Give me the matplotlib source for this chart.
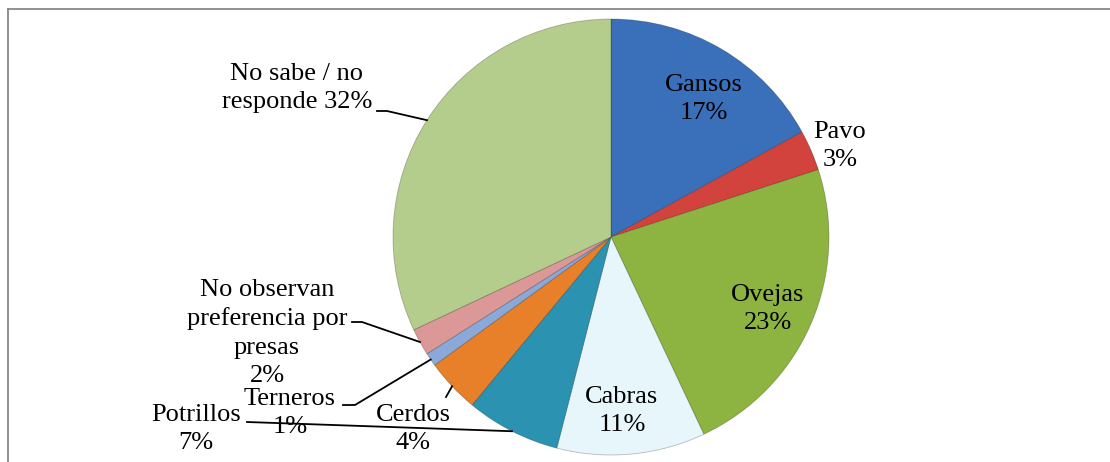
import numpy as np
import matplotlib.pyplot as plt
from matplotlib.lines import Line2D

plt.rcParams['font.family'] = ['Liberation Serif', 'DejaVu Serif']

# datos
categorias = ['Gansos', 'Pavo', 'Ovejas', 'Cabras', 'Potrillos', 'Cerdos',
              'Terneros', 'No observan preferencia por presas',
              'No sabe / no responde']
porcentajes = [17, 3, 23, 11, 7, 4, 1, 2, 32]
etiquetas = ['Gansos\n17%', 'Pavo\n3%', 'Ovejas\n23%', 'Cabras\n11%',
             'Potrillos\n7%', 'Cerdos\n4%', 'Terneros\n1%',
             'No observan\npreferencia por\npresas\n2%',
             'No sabe / no\nresponde 32%']
colores = ['#3a6fba', '#d2433d', '#8db440', '#e6f6fb', '#2b93b1',
           '#e8802a', '#8aa8d8', '#dc9896', '#b5cd8c']

W, H = 1110, 462
fig = plt.figure(figsize=(W / 100, H / 100), dpi=100)
ax = fig.add_axes([0, 0, 1, 1])

cx, cy, r = 611, H - 237, 218
wedges, _ = ax.pie(porcentajes, colors=colores, startangle=90,
                   counterclock=False, center=(cx, cy), radius=r,
                   wedgeprops=dict(edgecolor=(0, 0, 0, 0.25), linewidth=0.6),
                   frame=True)
ax.set_xlim(0, W)
ax.set_ylim(0, H)
ax.set_aspect('equal')
ax.axis('off')

# posiciones de etiquetas (px, desde arriba) y codos de lineas guia
pos_etq = {
    'Gansos': (704, 99), 'Pavo': (840, 146), 'Ovejas': (768, 309),
    'Cabras': (622, 411), 'Potrillos': (196, 429), 'Cerdos': (413, 429),
    'Terneros': (290, 413), 'No observan preferencia por presas': (267, 333),
    'No sabe / no responde': (297, 88),
}
guias = {
    'Potrillos': [(247, 422)],
    'Cerdos': [(446, 397)],
    'Terneros': [(343, 405), (355, 405)],
    'No observan preferencia por presas': [(352, 322), (362, 322)],
    'No sabe / no responde': [(377, 111), (387, 111)],
}

for w, cat, etq in zip(wedges, categorias, etiquetas):
    x, y = pos_etq[cat]
    ax.text(x, H - y, etq, ha='center', va='center', fontsize=19,
            linespacing=1.38, color='black')
    if cat in guias:
        ang = np.deg2rad((w.theta1 + w.theta2) / 2)
        ex, ey = cx + r * np.cos(ang), cy + r * np.sin(ang)
        pts = [(px, H - py) for px, py in guias[cat]] + [(ex, ey)]
        xs, ys = zip(*pts)
        ax.plot(xs, ys, color='black', linewidth=1.3)

# marco del grafico
fig.add_artist(Line2D([8 / W, 1], [1 - 9 / H, 1 - 9 / H], color='#888888',
                      linewidth=1.3, transform=fig.transFigure))
fig.add_artist(Line2D([8 / W, 8 / W], [0, 1 - 9 / H], color='#888888',
                      linewidth=1.3, transform=fig.transFigure))

fig.savefig('out.png', dpi=100)
